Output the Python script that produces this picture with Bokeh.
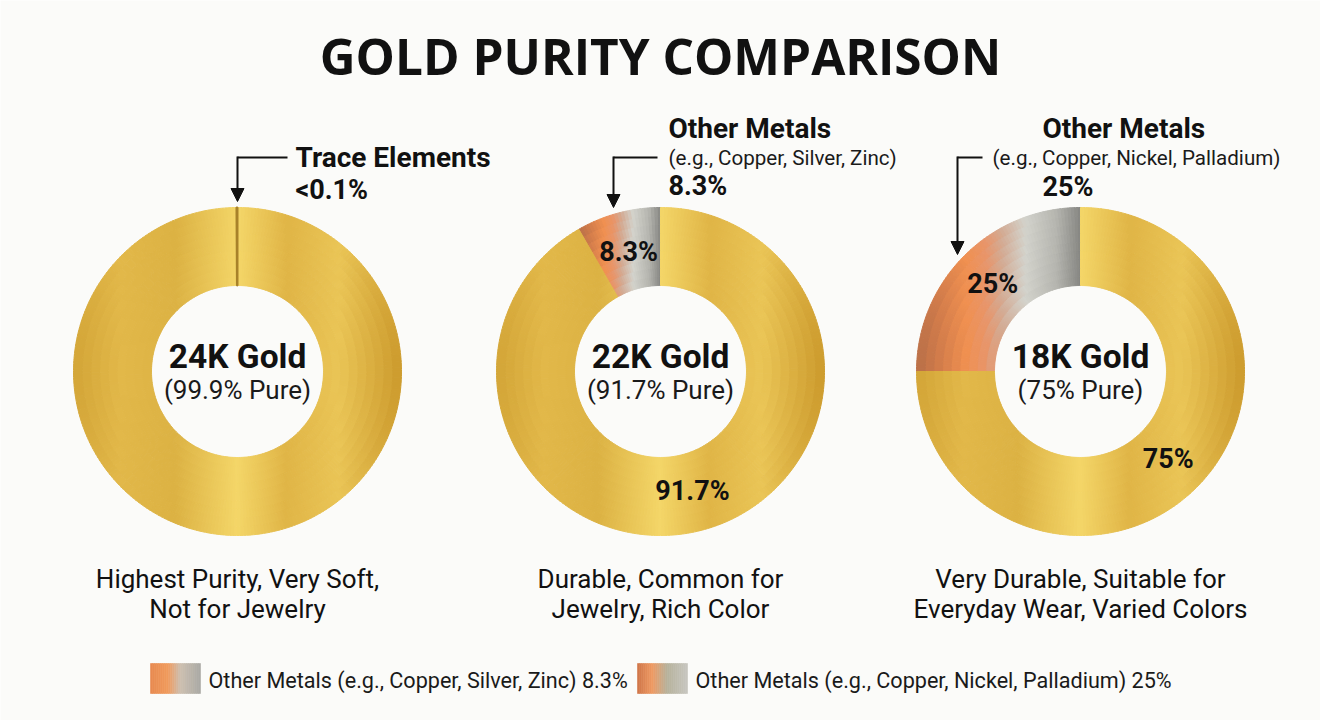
import numpy as np
from bokeh.plotting import figure
from bokeh.models import ColumnDataSource, Range1d, Arrow, NormalHead
from bokeh.embed import file_html
from bokeh.resources import INLINE
from bokeh.core.properties import value

# ---------------------------------------------------------------- data
karats = ["24K Gold", "22K Gold", "18K Gold"]
purity_notes = ["(99.9% Pure)", "(91.7% Pure)", "(75% Pure)"]
gold_share = [99.9, 91.7, 75.0]
other_share = [0.1, 8.3, 25.0]
show_segment_labels = [False, True, True]

callout_titles = ["Trace Elements", "Other Metals", "Other Metals"]
callout_examples = ["", "(e.g., Copper, Silver, Zinc)", "(e.g., Copper, Nickel, Palladium)"]
callout_values = ["<0.1%", "8.3%", "25%"]

descriptions = [
    ["Highest Purity, Very Soft,", "Not for Jewelry"],
    ["Durable, Common for", "Jewelry, Rich Color"],
    ["Very Durable, Suitable for", "Everyday Wear, Varied Colors"],
]
legend_labels = [
    "Other Metals (e.g., Copper, Silver, Zinc) 8.3%",
    "Other Metals (e.g., Copper, Nickel, Palladium) 25%",
]
title_text = "GOLD PURITY COMPARISON"

# ---------------------------------------------------------------- layout / style
W, H = 1320, 720
FONT = value("Roboto")
INK = "#111111"
BG = "#fbfbf9"
CENTERS_X = [237, 660, 1080]
CENTER_Y = H - 371
R_OUT, R_IN = 164, 86
N_RAD = 9
ANG_STEP_DEG = 1.2
LABEL_R = 124


def Y(px):
    """top-down pixel row -> data y"""
    return H - px


def hex_rgb(h):
    h = h.lstrip("#")
    return np.array([int(h[i:i + 2], 16) for i in (0, 2, 4)], dtype=float)


def make_ramp(stops):
    pos = np.array([s[0] for s in stops])
    cols = np.array([hex_rgb(s[1]) for s in stops])

    def ramp(t):
        t = float(np.clip(t, pos[0], pos[-1]))
        rgb = [np.interp(t, pos, cols[:, k]) for k in range(3)]
        return "#%02x%02x%02x" % tuple(int(round(c)) for c in rgb)
    return ramp


# metallic gold, varying across the ring from left (-1) to right (+1)
gold_ramp = make_ramp([
    (-1.0, "#d3a537"), (-0.72, "#e2b849"), (-0.38, "#dcb243"),
    (0.0, "#f4d668"), (0.3, "#e0b546"), (0.62, "#eac556"), (1.0, "#cc9a2c"),
])
# copper -> silver alloy, left edge (0) to right edge (1) of its slice
alloy_ramp = make_ramp([
    (0.0, "#b86f48"), (0.12, "#cf7a4a"), (0.3, "#f09050"), (0.42, "#e8956a"),
    (0.52, "#d3ab94"), (0.66, "#d3d3cc"), (0.85, "#b5b5af"), (1.0, "#858581"),
])

cells = dict(x=[], y=[], r0=[], r1=[], a0=[], a1=[], color=[])


def add_cells(cx, cy, a0, a1, color_of_x):
    n_ang = max(2, int(np.ceil(np.degrees(a1 - a0) / ANG_STEP_DEG)))
    a_edges = np.linspace(a0, a1, n_ang + 1)
    r_edges = np.linspace(R_IN, R_OUT, N_RAD + 1)
    for i in range(n_ang):
        am = 0.5 * (a_edges[i] + a_edges[i + 1])
        for j in range(N_RAD):
            rm = 0.5 * (r_edges[j] + r_edges[j + 1])
            cells["x"].append(cx)
            cells["y"].append(cy)
            cells["r0"].append(r_edges[j])
            cells["r1"].append(r_edges[j + 1])
            cells["a0"].append(a_edges[i])
            cells["a1"].append(a_edges[i + 1])
            cells["color"].append(color_of_x(rm * np.cos(am)))


p = figure(width=W, height=H, x_range=Range1d(0, W), y_range=Range1d(0, H),
           output_backend="svg", toolbar_location=None,
           x_axis_location=None, y_axis_location=None, min_border=0)
p.grid.visible = False
p.outline_line_color = None
p.background_fill_color = BG
p.border_fill_color = BG

trace = dict(x=[], y=[], a0=[], a1=[])
seg_labels = dict(x=[], y=[], text=[])

for k in range(3):
    cx = CENTERS_X[k]
    total = gold_share[k] + other_share[k]
    other_angle = 2 * np.pi * other_share[k] / total
    start = np.pi / 2                     # 12 o'clock, running anticlockwise
    split = start + other_angle
    end = start + 2 * np.pi

    if other_share[k] >= 1:
        # horizontal extent of the alloy slice drives its copper->silver ramp
        xl = R_OUT * np.cos(split) if split < np.pi else -R_OUT
        xr = 0.0
        add_cells(cx, CENTER_Y, start, split,
                  lambda xv, xl=xl, xr=xr: alloy_ramp((xv - xl) / (xr - xl)))
    else:
        trace["x"].append(cx)
        trace["y"].append(CENTER_Y)
        trace["a0"].append(start)
        trace["a1"].append(split)
    add_cells(cx, CENTER_Y, split, end, lambda xv: gold_ramp(xv / R_OUT))

    if show_segment_labels[k]:
        for a, b, v in ((start, split, other_share[k]), (split, end, gold_share[k])):
            m = 0.5 * (a + b)
            seg_labels["x"].append(cx + LABEL_R * np.cos(m))
            seg_labels["y"].append(CENTER_Y + LABEL_R * np.sin(m))
            seg_labels["text"].append(f"{v:g}%")

src = ColumnDataSource(cells)
p.annular_wedge(x="x", y="y", inner_radius="r0", outer_radius="r1",
                start_angle="a0", end_angle="a1", source=src,
                fill_color="color", line_color="color", line_width=1)

p.annular_wedge(x="x", y="y", inner_radius=R_IN, outer_radius=R_OUT,
                start_angle="a0", end_angle="a1", source=ColumnDataSource(trace),
                fill_color="#a8822a", line_color="#a8822a", line_width=2)

p.text(x="x", y="y", text="text", source=ColumnDataSource(seg_labels),
       text_font=FONT, text_font_style="bold", text_font_size="27px",
       text_align="center", text_baseline="middle", text_color=INK)

# centre captions
p.text(x=CENTERS_X, y=[Y(356)] * 3, text=karats, text_font=FONT,
       text_font_style="bold", text_font_size="33.5px", text_align="center",
       text_baseline="middle", text_color=INK)
p.text(x=CENTERS_X, y=[Y(389)] * 3, text=purity_notes, text_font=FONT,
       text_font_size="26px", text_align="center", text_baseline="middle",
       text_color="#1a1a1a")

# descriptions below each ring
for row, mid in enumerate((578, 608)):
    p.text(x=CENTERS_X, y=[Y(mid)] * 3, text=[d[row] for d in descriptions],
           text_font=FONT, text_font_size="26px", text_align="center",
           text_baseline="middle", text_color=INK)

# call-outs with elbow arrows
title_x = [295, 668, 1042]
title_mid = [157, 128, 128]
example_x = [668, 668, 992]
value_x = [295, 668, 1042]
value_mid = [189, 185, 186]
elbow_x = [237, 613, 957]
elbow_y = 157
text_start_x = [287, 657, 982]
tip_y = [201, 207, 254]

p.text(x=title_x, y=[Y(b) for b in title_mid], text=callout_titles,
       text_font=FONT, text_font_style="bold", text_font_size="28px",
       text_baseline="middle", text_color=INK)
ex = [(example_x[k], callout_examples[k]) for k in range(3) if callout_examples[k]]
p.text(x=[e[0] for e in ex], y=[Y(157)] * len(ex), text=[e[1] for e in ex],
       text_font=FONT, text_font_size="20.6px", text_baseline="middle",
       text_color="#1a1a1a")
p.text(x=value_x, y=[Y(b) for b in value_mid], text=callout_values,
       text_font=FONT, text_font_style="bold", text_font_size="27px",
       text_baseline="middle", text_color=INK)

p.segment(x0=elbow_x, y0=[Y(elbow_y)] * 3, x1=text_start_x, y1=[Y(elbow_y)] * 3,
          line_color=INK, line_width=2)
for k in range(3):
    p.add_layout(Arrow(end=NormalHead(size=13, fill_color=INK, line_color=INK),
                       x_start=elbow_x[k], y_start=Y(elbow_y - 1),
                       x_end=elbow_x[k], y_end=Y(tip_y[k]),
                       line_color=INK, line_width=2))

# title
p.text(x=[W / 2], y=[Y(55)], text=[title_text], text_font=value("Open Sans"),
       text_font_style="bold", text_font_size="49.5px", text_align="center",
       text_baseline="middle", text_color=INK)

# legend with gradient swatches
sw_x = [150, 637]
sw_w, sw_top, sw_bot = 50, 663, 693
legend_ramps = [
    make_ramp([(0.0, "#e8894f"), (0.35, "#f09a5c"), (0.6, "#cdbfb0"), (1.0, "#a9a9a4")]),
    make_ramp([(0.0, "#cf7448"), (0.3, "#ee9a63"), (0.6, "#b6b29c"), (1.0, "#c7c6c0")]),
]
sw = dict(left=[], right=[], color=[])
n_strip = 25
for k in range(2):
    for i in range(n_strip):
        sw["left"].append(sw_x[k] + sw_w * i / n_strip)
        sw["right"].append(sw_x[k] + sw_w * (i + 1) / n_strip)
        sw["color"].append(legend_ramps[k]((i + 0.5) / n_strip))
p.quad(left="left", right="right", bottom=Y(sw_bot), top=Y(sw_top),
       source=ColumnDataSource(sw), fill_color="color", line_color="color",
       line_width=0.6)
p.text(x=[sx + sw_w + 8 for sx in sw_x], y=[Y(680)] * 2, text=legend_labels,
       text_font=FONT, text_font_size="21.6px", text_baseline="middle",
       text_color="#1a1a1a")

open("out.html", "w").write(file_html(p, INLINE))
